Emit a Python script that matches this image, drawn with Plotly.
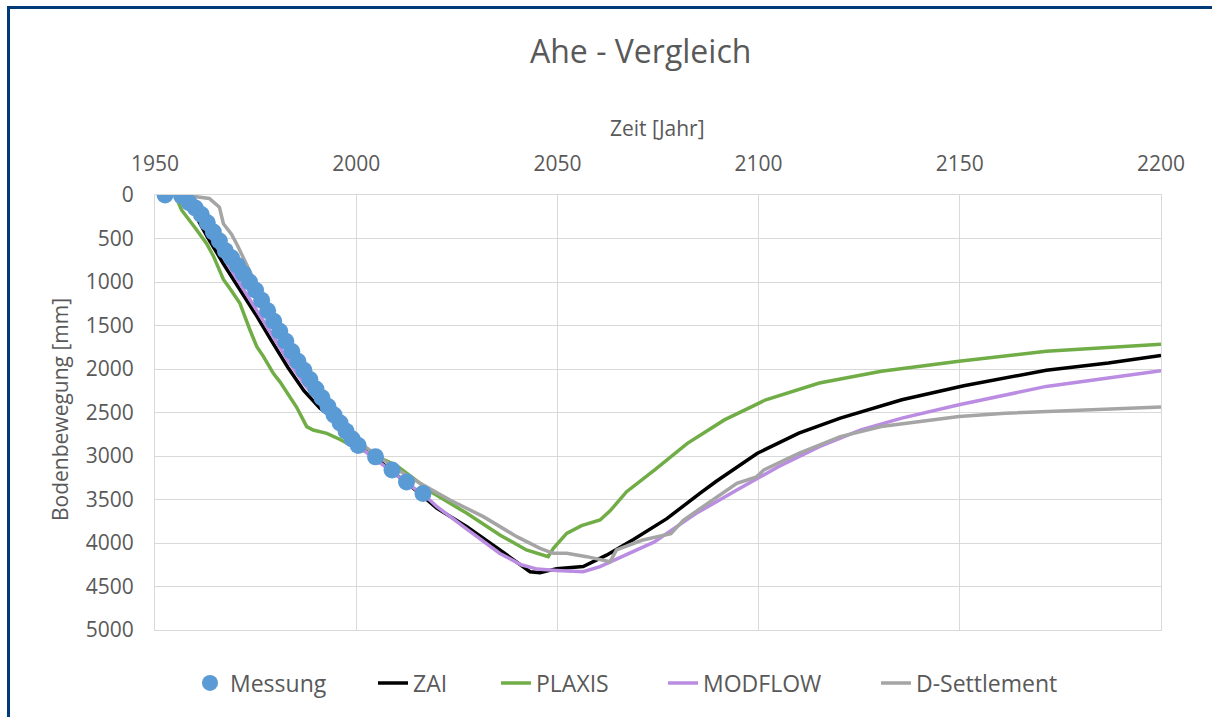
import plotly.graph_objects as go

# ---------------- data ----------------
mess_year = [1952.5, 1956.6, 1958.5, 1960, 1961.5, 1963, 1964.5, 1966, 1967.5, 1969,
             1970.5, 1972, 1973.5, 1975, 1976.5, 1978, 1979.5, 1981, 1982.5, 1984,
             1985.5, 1987, 1988.5, 1990, 1991.5, 1993, 1994.5, 1996, 1997.5, 1999,
             2000.5, 2004.8, 2008.9, 2012.5, 2016.6]
mess_mm = [0, 10, 90, 150, 225, 320, 425, 530, 640, 720,
           810, 905, 1000, 1095, 1210, 1330, 1450, 1565, 1680, 1800,
           1910, 2015, 2120, 2230, 2330, 2430, 2530, 2620, 2715, 2805,
           2880, 3010, 3160, 3300, 3430]

zai_year = [1955, 1958, 1960, 1963, 1967, 1971, 1975, 1979, 1983, 1987, 1991, 1996,
            2000, 2005, 2010, 2015, 2020, 2027.5, 2035.7, 2043.2, 2045.7, 2049.8,
            2056.4, 2062.2, 2068.9, 2077.2, 2085.4, 2089.5, 2099.7, 2110, 2120.3,
            2135.6, 2151, 2171.5, 2186.9, 2200]
zai_mm = [0, 100, 230, 480, 790, 1080, 1370, 1680, 1980, 2250, 2450, 2620,
          2860, 3030, 3210, 3400, 3600, 3812, 4080, 4330, 4341, 4295,
          4270, 4140, 3960, 3720, 3430, 3290, 2969, 2738, 2565,
          2354, 2192, 2015, 1931, 1845]

plaxis_year = [1955, 1956.6, 1960, 1962.8, 1964.5, 1967, 1969, 1971.1, 1973.6, 1975.3,
               1977, 1979.4, 1981.1, 1983.5, 1985.2, 1987.7, 1989.3, 1992.7, 1996, 1999.3,
               2005, 2010, 2015, 2019.2, 2027.5, 2035.7, 2042.3, 2047.7, 2049, 2052.3,
               2056, 2060.6, 2063.1, 2067.2, 2074.1, 2082.3, 2091.5, 2101.8, 2115.1,
               2130.5, 2149.8, 2171.5, 2200]
plaxis_mm = [0, 172, 380, 556, 700, 970, 1100, 1245, 1552, 1743,
             1860, 2050, 2150, 2318, 2440, 2663, 2701, 2739, 2810, 2893,
             3000, 3110, 3290, 3429, 3659, 3908, 4080, 4157, 4061, 3889,
             3800, 3736, 3630, 3410, 3161, 2854, 2585, 2354, 2161,
             2027, 1911, 1796, 1715]

modflow_year = [1955, 1958, 1960, 1963, 1967, 1971, 1975, 1979, 1983, 1987, 1991, 1996,
                2000, 2005, 2010, 2018.3, 2020, 2027.5, 2035.7, 2041, 2045, 2049.8,
                2056.4, 2060.6, 2068.9, 2074.1, 2077.2, 2084.4, 2094.6, 2104.9, 2115.1,
                2125.4, 2135.6, 2149.8, 2171.5, 2200]
modflow_mm = [0, 80, 200, 420, 720, 1000, 1290, 1600, 1900, 2170, 2400, 2640,
              2870, 3040, 3220, 3506, 3580, 3840, 4120, 4250, 4300, 4315,
              4330, 4272, 4100, 3988, 3889, 3662, 3392, 3123, 2892,
              2700, 2565, 2411, 2200, 2020]

dset_year = [1957, 1960, 1963.5, 1966, 1967, 1969, 1970.5, 1974, 1978, 1982, 1986, 1990,
             1995, 2000, 2005, 2010, 2015.9, 2023.3, 2031.6, 2037.4, 2039.9, 2045.7,
             2049, 2052.3, 2057.3, 2063.1, 2064.7, 2071, 2078.2, 2081.3, 2087.4, 2094.6,
             2099.5, 2101.3, 2110, 2120.3, 2130.5, 2149.8, 2161.3, 2181.8, 2200]
dset_mm = [0, 15, 40, 140, 330, 450, 580, 920, 1240, 1560, 1890, 2180,
           2520, 2820, 2990, 3150, 3314, 3506, 3697, 3851, 3927, 4061,
           4119, 4119, 4157, 4215, 4080, 3969, 3892, 3738, 3546, 3315,
           3240, 3160, 2969, 2777, 2661, 2546, 2508, 2469, 2438]

x_ticks = [1950, 2000, 2050, 2100, 2150, 2200]
y_ticks = [0, 500, 1000, 1500, 2000, 2500, 3000, 3500, 4000, 4500, 5000]

# ---------------- figure ----------------
FONT = "Open Sans"
TXT = "#595959"
GRID = "#D9D9D9"

W, H = 1212, 717
L, R, T, B = 155, 1161, 195, 630


def px(xp):
    return (xp - L) / (R - L)


def py(yp):
    return (B - yp) / (B - T)


fig = go.Figure()
fig.add_trace(go.Scatter(x=zai_year, y=zai_mm, mode="lines", name="ZAI",
                         line=dict(color="#000000", width=3.5), legend="legend2"))
fig.add_trace(go.Scatter(x=plaxis_year, y=plaxis_mm, mode="lines", name="PLAXIS",
                         line=dict(color="#70AD47", width=3.5), legend="legend3"))
fig.add_trace(go.Scatter(x=modflow_year, y=modflow_mm, mode="lines", name="MODFLOW",
                         line=dict(color="#BA8DE2", width=3.5), legend="legend4"))
fig.add_trace(go.Scatter(x=dset_year, y=dset_mm, mode="lines", name="D-Settlement",
                         line=dict(color="#A5A5A5", width=3.5), legend="legend5"))
fig.add_trace(go.Scatter(x=mess_year, y=mess_mm, mode="markers", name="Messung",
                         marker=dict(color="#5B9BD5", size=17), legend="legend"))


def leg(text_start):
    return dict(orientation="h", x=px(text_start - 40), xanchor="left",
                y=py(683), yanchor="middle", bgcolor="rgba(0,0,0,0)",
                font=dict(size=23, color=TXT, family=FONT))


fig.update_layout(
    width=W, height=H,
    margin=dict(l=L, r=W - R, t=T, b=H - B),
    paper_bgcolor="white", plot_bgcolor="white",
    font=dict(family=FONT, color=TXT, size=21),
    showlegend=True,
    legend=leg(230), legend2=leg(413), legend3=leg(536), legend4=leg(703), legend5=leg(916),
    xaxis=dict(range=[1950, 2200], side="top", tickvals=x_ticks,
               showgrid=True, gridcolor=GRID, gridwidth=1,
               showline=True, linecolor=GRID, mirror=True, zeroline=False,
               ticks="outside", ticklen=15, tickcolor="rgba(0,0,0,0)",
               tickfont=dict(size=21, color=TXT)),
    yaxis=dict(range=[5000, 0], tickvals=y_ticks, tickformat="d",
               showgrid=True, gridcolor=GRID, gridwidth=1,
               showline=True, linecolor=GRID, mirror=True, zeroline=False,
               ticks="outside", ticklen=16, tickcolor="rgba(0,0,0,0)",
               tickfont=dict(size=21, color=TXT)),
    annotations=[
        dict(text="Ahe - Vergleich", x=px(640), y=py(50), xref="paper", yref="paper",
             showarrow=False, font=dict(size=32, color=TXT, family=FONT),
             xanchor="center", yanchor="middle"),
        dict(text="Zeit [Jahr]", x=px(657), y=py(128), xref="paper", yref="paper",
             showarrow=False, font=dict(size=21, color=TXT, family=FONT),
             xanchor="center", yanchor="middle"),
        dict(text="Bodenbewegung [mm]", x=px(60), y=py(410), xref="paper", yref="paper",
             showarrow=False, textangle=-90, font=dict(size=21, color=TXT, family=FONT),
             xanchor="center", yanchor="middle"),
    ],
    shapes=[
        dict(type="line", xref="paper", yref="paper", x0=px(8.5), x1=px(8.5),
             y0=py(6), y1=py(717), line=dict(color="#003A78", width=3)),
        dict(type="line", xref="paper", yref="paper", x0=px(7), x1=px(1212),
             y0=py(7.5), y1=py(7.5), line=dict(color="#003A78", width=3)),
    ],
)

fig.write_html("out.html", config={"displayModeBar": False},
               post_script="document.body.style.margin='0';document.body.style.overflow='hidden';")
